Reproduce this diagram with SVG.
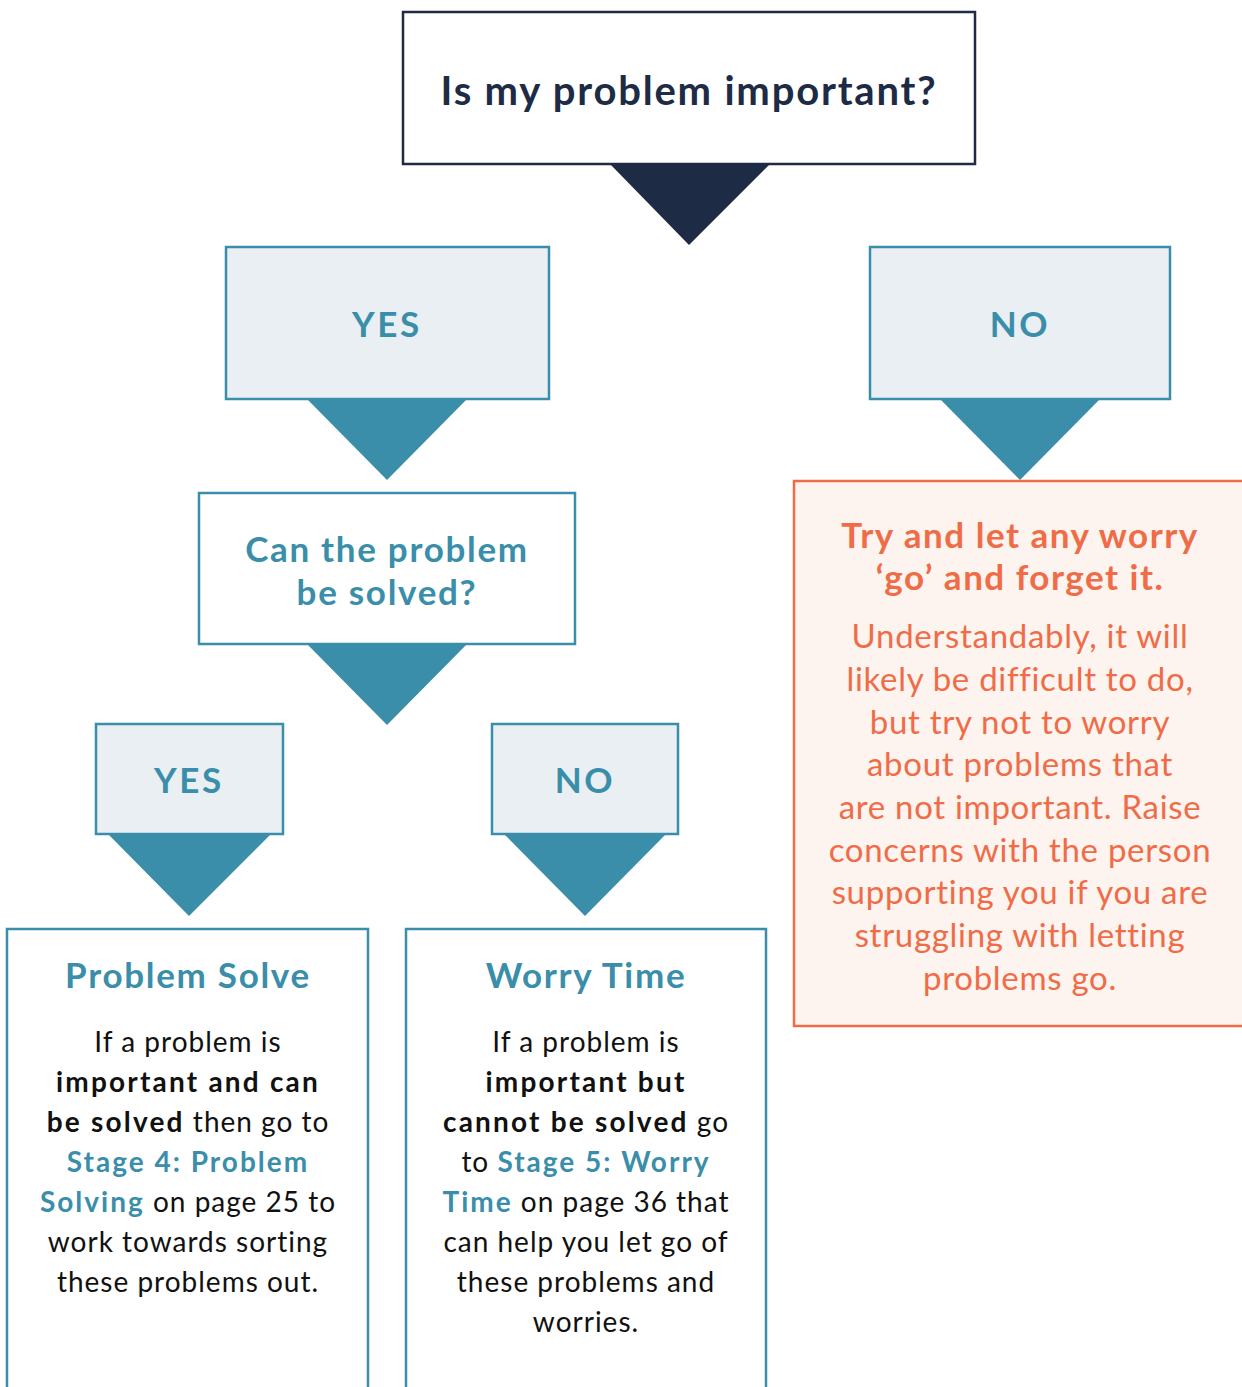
<svg xmlns="http://www.w3.org/2000/svg" width="1242" height="1387" viewBox="0 0 1242 1387">
<style>
text{font-family:Lato,"Open Sans","Liberation Sans",sans-serif;text-anchor:middle}
.q{font-size:40px;font-weight:bold;fill:#1d2b45;letter-spacing:1.8px}
.lab{font-size:35px;font-weight:bold;fill:#3a8eaa;letter-spacing:1.7px}
.tbox{fill:#eaeff3;stroke:#3a8eaa;stroke-width:2.5}
.wbox{fill:#fff;stroke:#3a8eaa;stroke-width:2.5}
.tri{fill:#3a8eaa}
.body{font-size:28px;fill:#111;letter-spacing:1px}
.b{font-weight:bold;letter-spacing:2.2px}
.t{font-weight:bold;fill:#3a8eaa;letter-spacing:2px}
.ot{font-size:35px;font-weight:bold;fill:#ef6c47;letter-spacing:1.5px}
.ob{font-size:33px;fill:#ef6c47;letter-spacing:0.7px}
</style>
<g id="connectors">
<polygon points="610,164 770,164 689,245" fill="#1d2b45"/>
<polygon class="tri" points="307,399 467,399 387,480"/>
<polygon class="tri" points="940,399 1100,399 1020,480"/>
<polygon class="tri" points="307,644 467,644 387,725"/>
<polygon class="tri" points="108,834 271,834 189,916"/>
<polygon class="tri" points="504,834 666,834 585,916"/>
</g>
<g id="q1">
<rect x="403" y="12" width="572" height="152" fill="#fff" stroke="#1d2b45" stroke-width="2.5"/>
<text class="q" x="689" y="105">Is my problem important?</text>
</g>
<g id="yes1">
<rect class="tbox" x="226" y="247" width="323" height="152"/>
<text class="lab" x="387" y="337" style="letter-spacing:2.6px">YES</text>
</g>
<g id="no1">
<rect class="tbox" x="870" y="247" width="300" height="152"/>
<text class="lab" x="1020" y="337" style="letter-spacing:2.6px">NO</text>
</g>
<g id="q2">
<rect class="wbox" x="199" y="493" width="376" height="151"/>
<text class="lab" x="387" y="562">Can the problem</text>
<text class="lab" x="387" y="605">be solved?</text>
</g>
<g id="yes2">
<rect class="tbox" x="96" y="724" width="187" height="110"/>
<text class="lab" x="189" y="793" style="letter-spacing:2.6px">YES</text>
</g>
<g id="no2">
<rect class="tbox" x="492" y="724" width="186" height="110"/>
<text class="lab" x="585" y="793" style="letter-spacing:2.6px">NO</text>
</g>
<g id="solve">
<rect class="wbox" x="7" y="929" width="361" height="470"/>
<text class="lab" x="188" y="988">Problem Solve</text>
<text class="body" x="188" y="1052">If a problem is</text>
<text class="body b" x="188" y="1092">important and can</text>
<text class="body" x="188" y="1132"><tspan class="b">be solved</tspan> then go to</text>
<text class="body t" x="188" y="1172">Stage 4: Problem</text>
<text class="body" x="188" y="1212"><tspan class="t">Solving</tspan> on page 25 to</text>
<text class="body" x="188" y="1252">work towards sorting</text>
<text class="body" x="188" y="1292">these problems out.</text>
</g>
<g id="worry">
<rect class="wbox" x="406" y="929" width="360" height="470"/>
<text class="lab" x="586" y="988">Worry Time</text>
<text class="body" x="586" y="1052">If a problem is</text>
<text class="body b" x="586" y="1092">important but</text>
<text class="body" x="586" y="1132"><tspan class="b">cannot be solved</tspan> go</text>
<text class="body" x="586" y="1172">to <tspan class="t">Stage 5: Worry</tspan></text>
<text class="body" x="586" y="1212"><tspan class="t">Time</tspan> on page 36 that</text>
<text class="body" x="586" y="1252">can help you let go of</text>
<text class="body" x="586" y="1292">these problems and</text>
<text class="body" x="586" y="1332">worries.</text>
</g>
<g id="forget">
<rect x="794" y="481" width="460" height="545" fill="#fdf3ef" stroke="#ef6c47" stroke-width="2.5"/>
<text class="ot" x="1020" y="548">Try and let any worry</text>
<text class="ot" x="1020" y="590">‘go’ and forget it.</text>
<text class="ob" x="1020" y="648">Understandably, it will</text>
<text class="ob" x="1020" y="691">likely be difficult to do,</text>
<text class="ob" x="1020" y="734">but try not to worry</text>
<text class="ob" x="1020" y="776">about problems that</text>
<text class="ob" x="1020" y="819">are not important. Raise</text>
<text class="ob" x="1020" y="862">concerns with the person</text>
<text class="ob" x="1020" y="904">supporting you if you are</text>
<text class="ob" x="1020" y="947">struggling with letting</text>
<text class="ob" x="1020" y="990">problems go.</text>
</g>
</svg>
